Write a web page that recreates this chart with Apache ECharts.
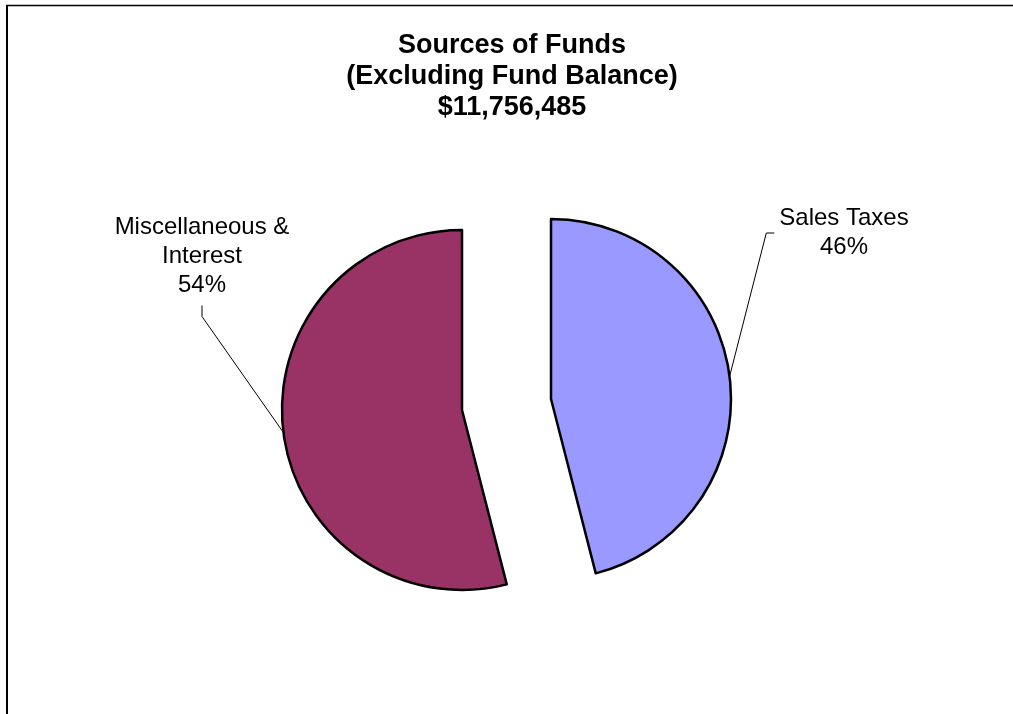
<!DOCTYPE html>
<html>
<head>
<meta charset="utf-8">
<script src="https://cdn.jsdelivr.net/npm/echarts@6/dist/echarts.min.js"></script>
<style>
  html, body { margin: 0; padding: 0; background: #fff; }
  #chart { width: 1013px; height: 714px; }
</style>
</head>
<body>
<div id="chart"></div>
<script>
// Revenue shares, in percent of the total
const categories = ['Sales Taxes', 'Miscellaneous &\nInterest'];
const shares = [46, 54];
const titleLines = ['Sources of Funds', '(Excluding Fund Balance)', '$11,756,485'];

// Presentation
const sliceColors = ['#9999FF', '#993366'];
const sliceCentres = [[551, 399], [462, 410]];   // each slice pulled out on its own centre
const labelAnchors = [[844, 233], [202, 256]];   // centre of each label block
const RADIUS = 180;
const FONT = '"Liberation Sans", Arial, sans-serif';

// Leader from the slice edge to the side of the label facing it
function leaderPoints(i, arcPt, w, h) {
  const [cx, cy] = labelAnchors[i];
  if (i === 0) {
    const end = [cx - w / 2 - 5, cy];
    return [arcPt, [end[0] - 8, end[1]], end];
  }
  const end = [cx, cy + h / 2 + 6];
  return [arcPt, [end[0], end[1] + 11], end];
}

const series = categories.map((_, s) => ({
  type: 'pie',
  center: sliceCentres[s],
  radius: RADIUS,
  startAngle: 90,
  clockwise: true,
  silent: true,
  animation: false,
  avoidLabelOverlap: false,
  emphasis: { disabled: true },
  data: categories.map((name, i) => ({
    name: name,
    value: shares[i],
    itemStyle: i === s
      ? { color: sliceColors[i], borderColor: '#000', borderWidth: 2.5 }
      : { color: 'rgba(0,0,0,0)', borderWidth: 0 },
    label: { show: i === s },
    labelLine: { show: i === s }
  })),
  label: {
    position: 'outside',
    formatter: '{b}\n{d}%',
    fontFamily: FONT,
    fontSize: 24,
    lineHeight: 29,
    color: '#000',
    align: 'center'
  },
  labelLine: { show: true, smooth: false, lineStyle: { color: '#000', width: 1 } },
  labelLayout: function (p) {
    if (p.dataIndex !== s) return {};
    const r = p.labelRect;
    const arcPt = p.labelLinePoints ? p.labelLinePoints[0] : [0, 0];
    return {
      x: labelAnchors[s][0],
      y: labelAnchors[s][1],
      align: 'center',
      verticalAlign: 'middle',
      labelLinePoints: leaderPoints(s, arcPt, r.width, r.height)
    };
  }
}));

const chart = echarts.init(document.getElementById('chart'), null, { renderer: 'canvas' });
chart.setOption({
  backgroundColor: '#fff',
  animation: false,
  title: {
    text: titleLines.join('\n'),
    left: 512,
    top: 30,
    textAlign: 'center',
    padding: 0,
    textStyle: {
      fontFamily: FONT,
      fontSize: 27,
      fontWeight: 'bold',
      lineHeight: 31,
      color: '#000'
    }
  },
  graphic: [
    { type: 'line', silent: true, shape: { x1: 6, y1: 5.5, x2: 1013, y2: 5.5 }, style: { stroke: '#000', lineWidth: 1.5 } },
    { type: 'line', silent: true, shape: { x1: 7, y1: 5, x2: 7, y2: 714 }, style: { stroke: '#000', lineWidth: 2 } }
  ],
  series: series
});
</script>
</body>
</html>
